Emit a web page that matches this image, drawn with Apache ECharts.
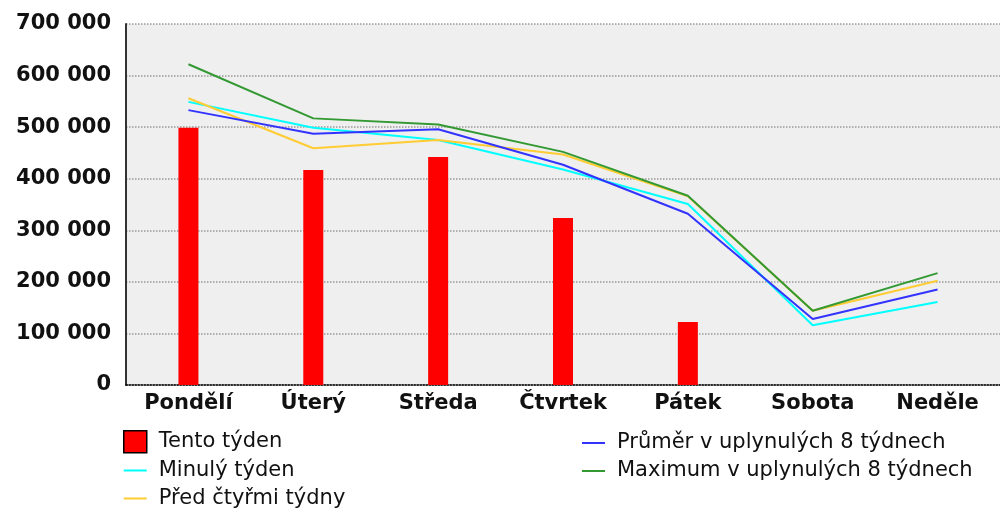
<!DOCTYPE html>
<html>
<head>
<meta charset="utf-8">
<script src="https://cdn.jsdelivr.net/npm/echarts@6/dist/echarts.min.js"></script>
<style>
  html, body { margin: 0; padding: 0; background: #fff; }
  #myChart { width: 1000px; height: 509px; }
</style>
</head>
<body>
<div id="myChart"></div>
<script>
// dny v týdnu
var days = ["Pondělí", "Úterý", "Středa", "Čtvrtek", "Pátek", "Sobota", "Neděle"];
var thisWeek = [499000, 417000, 442000, 324000, 122000, null, null];
var lastWeek = [549000, 499000, 475000, 418000, 351000, 116000, 161000];
var fourWeeksAgo = [556000, 459000, 475000, 447000, 366000, 144000, 202000];
var avg8 = [533000, 487000, 496000, 427000, 332000, 128000, 185000];
var max8 = [622000, 517000, 505000, 452000, 367000, 144000, 217000];

var font = "DejaVu Sans";
// tenká čára v legendě (moveTo body drží rozměr ikony)
var lineIcon = "path://M0,0 M0,10 L23,10 L23,12 L0,12 Z M23,22";

var myChart = echarts.init(document.getElementById("myChart"));

function lineSeries(name, data, color) {
  return {
    name: name,
    type: "line",
    data: data,
    symbol: "none",
    lineStyle: { color: color, width: 2 },
    itemStyle: { color: color }
  };
}

function legendBox(left, top, items) {
  return {
    orient: "vertical",
    left: left,
    top: top,
    height: 120,
    padding: 0,
    itemWidth: 23,
    itemHeight: 22,
    itemGap: 6,
    selectedMode: false,
    textStyle: { fontFamily: font, fontSize: 21, color: "#111", padding: [0, 0, 0, 7] },
    data: items
  };
}

myChart.setOption({
  animation: false,
  grid: {
    left: 126,
    top: 24,
    right: -9,
    bottom: 124,
    show: true,
    backgroundColor: "#efefef",
    borderWidth: 0
  },
  legend: [
    legendBox(123, 430, [
      { name: "Tento týden", icon: "rect", itemStyle: { borderColor: "#000", borderWidth: 1.5 } },
      { name: "Minulý týden", icon: lineIcon },
      { name: "Před čtyřmi týdny", icon: lineIcon }
    ]),
    legendBox(582, 432, [
      { name: "Průměr v uplynulých 8 týdnech", icon: lineIcon },
      { name: "Maximum v uplynulých 8 týdnech", icon: lineIcon }
    ])
  ],
  xAxis: {
    type: "category",
    data: days,
    axisTick: { show: false },
    axisLine: { show: true, lineStyle: { color: "#000", type: "dotted", width: 1.5 } },
    axisLabel: { fontFamily: font, fontSize: 21, fontWeight: "bold", color: "#111", margin: 8 },
    splitLine: { show: false }
  },
  yAxis: {
    type: "value",
    min: 0,
    max: 700000,
    interval: 100000,
    axisLine: { show: true, lineStyle: { color: "#333", width: 2 } },
    axisTick: { show: false },
    axisLabel: {
      fontFamily: font,
      fontSize: 21,
      fontWeight: "bold",
      color: "#111",
      margin: 15,
      formatter: function (v) {
        return String(v).replace(/\B(?=(\d{3})+(?!\d))/g, " ");
      }
    },
    splitLine: { show: true, lineStyle: { color: "#999", type: "dotted", width: 1.5 } }
  },
  series: [
    {
      name: "Tento týden",
      type: "bar",
      data: thisWeek,
      barWidth: 20,
      itemStyle: { color: "#ff0000" }
    },
    lineSeries("Minulý týden", lastWeek, "#00ffff"),
    lineSeries("Před čtyřmi týdny", fourWeeksAgo, "#ffcc33"),
    lineSeries("Průměr v uplynulých 8 týdnech", avg8, "#3333ff"),
    lineSeries("Maximum v uplynulých 8 týdnech", max8, "#339933")
  ]
});

window.addEventListener("resize", function () {
  myChart.resize();
});
</script>
</body>
</html>
